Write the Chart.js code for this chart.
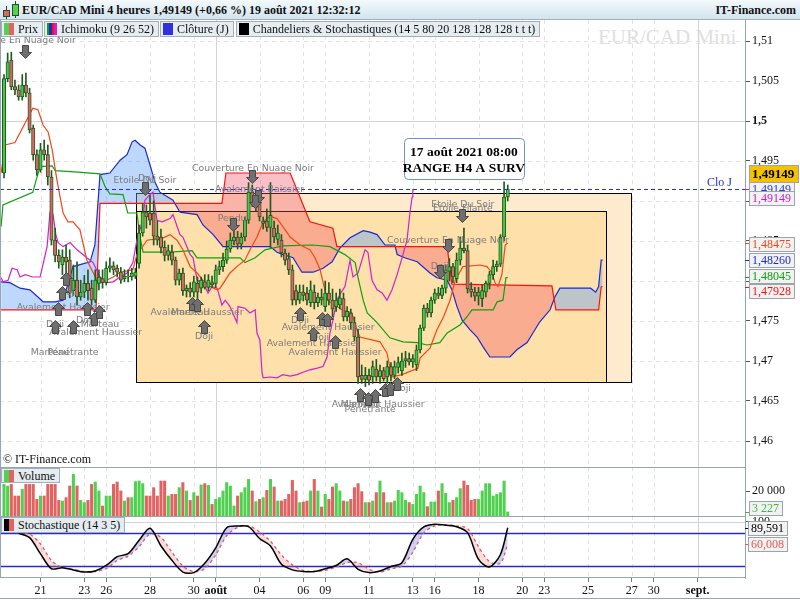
<!DOCTYPE html>
<html lang="fr">
<head>
<meta charset="utf-8">
<title>EUR/CAD Mini 4 heures</title>
<script src="https://cdn.jsdelivr.net/npm/chart.js@4.4.1/dist/chart.umd.min.js"></script>
<style>
  html, body { margin: 0; padding: 0; background: #fff; }
  #page { position: relative; width: 800px; height: 600px; overflow: hidden;
          font-family: "Liberation Serif", "Times New Roman", serif; color: #111; }
  canvas { position: absolute; left: 0; }
  #titre { position: absolute; left: 0; top: 0; width: 800px; height: 20px; box-sizing: border-box;
           background: linear-gradient(#f3f9fc, #d2e4ee); border-bottom: 1px solid #9fb0bc;
           font-weight: bold; font-size: 12px; z-index: 3; }
  #titre .txt { position: absolute; left: 22px; top: 3px; }
  #titre .site { position: absolute; right: 4px; top: 3px; }
  .meche { position: absolute; width: 1px; background: #2c4a2c; }
  .corps { position: absolute; box-sizing: border-box; border: 1px solid #2c4a2c; }
  .legendes { position: absolute; left: 1px; display: flex; gap: 1px; z-index: 3; }
  .leg { height: 16px; box-sizing: border-box; border: 1px solid #9fb0bc; background: #e6edf1;
         font-size: 12px; line-height: 14px; padding: 0 4px 0 2px; white-space: nowrap;
         display: flex; align-items: center; }
  .sw { display: inline-block; width: 10px; height: 12px; margin-right: 4px; }
  #filigrane { position: absolute; left: 598px; top: 25px; font-size: 21px; color: #e0e0e0; }
  #copy { position: absolute; left: 3px; top: 452px; font-size: 12px; z-index: 3; }
  #basline { position: absolute; left: 0; top: 598px; width: 800px; height: 1px; background: #98a4ae; }
</style>
</head>
<body>
<div id="page">
  <div id="filigrane">EUR/CAD Mini</div>
  <canvas id="prix" width="800" height="447" style="top:20px"></canvas>
  <canvas id="volume" width="800" height="49" style="top:467px"></canvas>
  <canvas id="stoch" width="800" height="84" style="top:516px"></canvas>

  <div id="titre">
    <div class="meche" style="left:6px;top:6px;height:13px"></div>
    <div class="corps" style="left:3px;top:10px;width:7px;height:7px;background:#e36262"></div>
    <div class="meche" style="left:15px;top:1px;height:17px"></div>
    <div class="corps" style="left:12px;top:4px;width:7px;height:12px;background:#52d152"></div>
    <span class="txt">EUR/CAD Mini 4 heures 1,49149 (+0,66 %) 19 août 2021 12:32:12</span>
    <span class="site">IT-Finance.com</span>
  </div>

  <div class="legendes" style="top:21px">
    <div class="leg"><span class="sw" style="background:linear-gradient(90deg,#52d152 50%,#e36262 50%)"></span>Prix</div>
    <div class="leg"><span class="sw" style="background:linear-gradient(90deg,#10a010 0 25%,#1a2ad0 25% 50%,#ff1010 50% 75%,#d020d0 75%)"></span>Ichimoku (9 26 52)</div>
    <div class="leg"><span class="sw" style="background:#3030e0"></span>Clôture (J)</div>
    <div class="leg" style="margin-left:1px"><span class="sw" style="background:#000"></span>Chandeliers &amp; Stochastiques (14 5 80 20 128 128 128 t t t)</div>
  </div>
  <div id="copy">© IT-Finance.com</div>
  <div class="legendes" style="top:468px">
    <div class="leg" style="height:15px"><span class="sw" style="background:linear-gradient(90deg,#52d152 50%,#e36262 50%)"></span>Volume</div>
  </div>
  <div class="legendes" style="top:517px">
    <div class="leg"><span class="sw" style="background:linear-gradient(90deg,#000 50%,#e36262 50%)"></span>Stochastique (14 3 5)</div>
  </div>
  <div id="basline"></div>
</div>

<script>
// ---------- bougies 4 heures (index 0 = 20 juil. 00:00, 6 bougies par jour) ----------
const firstCandle = -4;
const opens = [1.4935,1.5053,1.5076,1.5043,1.5039,1.5030,1.5045,1.5035,1.4991,1.4958,
  1.4939,1.4964,1.4958,1.4930,1.4851,1.4832,1.4820,1.4830,1.4826,1.4788,
  1.4801,1.4780,1.4786,1.4797,1.4791,1.4776,1.4797,1.4803,1.4798,1.4816,
  1.4819,1.4816,1.4811,1.4803,1.4806,1.4805,1.4806,1.4822,1.4860,1.4886,
  1.4885,1.4885,1.4856,1.4855,1.4842,1.4832,1.4836,1.4826,1.4801,1.4810,
  1.4788,1.4791,1.4786,1.4797,1.4791,1.4799,1.4792,1.4798,1.4797,1.4814,
  1.4818,1.4826,1.4840,1.4850,1.4855,1.4846,1.4855,1.4876,1.4911,1.4892,
  1.4901,1.4872,1.4875,1.4867,1.4866,1.4852,1.4851,1.4835,1.4828,1.4814,
  1.4788,1.4776,1.4786,1.4785,1.4773,1.4786,1.4773,1.4780,1.4768,1.4785,
  1.4776,1.4768,1.4770,1.4778,1.4755,1.4760,1.4748,1.4730,1.4682,1.4677,
  1.4682,1.4680,1.4690,1.4680,1.4688,1.4680,1.4693,1.4682,1.4692,1.4688,
  1.4700,1.4703,1.4699,1.4695,1.4714,1.4741,1.4766,1.4760,1.4776,1.4785,
  1.4782,1.4791,1.4812,1.4818,1.4803,1.4826,1.4841,1.4838,1.4790,1.4786,
  1.4781,1.4778,1.4786,1.4797,1.4808,1.4818,1.4821,1.4855,1.4905];
const highs = [1.5058,1.5085,1.5086,1.5051,1.5045,1.5058,1.5060,1.5041,1.4995,1.4964,
  1.4972,1.4976,1.4970,1.4938,1.4866,1.4839,1.4839,1.4845,1.4839,1.4820,
  1.4824,1.4801,1.4807,1.4814,1.4801,1.4814,1.4814,1.4814,1.4824,1.4829,
  1.4824,1.4820,1.4817,1.4814,1.4814,1.4816,1.4816,1.4870,1.4897,1.4895,
  1.4907,1.4900,1.4875,1.4865,1.4850,1.4845,1.4845,1.4830,1.4815,1.4816,
  1.4795,1.4798,1.4806,1.4805,1.4805,1.4808,1.4808,1.4806,1.4820,1.4825,
  1.4835,1.4850,1.4860,1.4862,1.4862,1.4860,1.4880,1.4923,1.4920,1.4913,
  1.4910,1.4880,1.4890,1.4923,1.4875,1.4870,1.4858,1.4840,1.4835,1.4820,
  1.4795,1.4795,1.4795,1.4792,1.4800,1.4795,1.4785,1.4790,1.4800,1.4798,
  1.4790,1.4785,1.4790,1.4785,1.4768,1.4765,1.4755,1.4740,1.4695,1.4692,
  1.4690,1.4700,1.4702,1.4695,1.4692,1.4700,1.4698,1.4700,1.4705,1.4710,
  1.4712,1.4710,1.4708,1.4720,1.4745,1.4770,1.4772,1.4780,1.4790,1.4792,
  1.4795,1.4820,1.4828,1.4822,1.4835,1.4855,1.4866,1.4845,1.4798,1.4792,
  1.4792,1.4795,1.4800,1.4812,1.4826,1.4825,1.4858,1.4924,1.4920];
const lows = [1.4929,1.5049,1.5039,1.5033,1.5026,1.5026,1.5030,1.4985,1.4951,1.4932,
  1.4936,1.4951,1.4920,1.4845,1.4824,1.4816,1.4808,1.4808,1.4779,1.4782,
  1.4770,1.4776,1.4779,1.4776,1.4770,1.4773,1.4789,1.4791,1.4795,1.4811,
  1.4808,1.4805,1.4797,1.4799,1.4799,1.4801,1.4803,1.4816,1.4856,1.4866,
  1.4870,1.4845,1.4845,1.4835,1.4825,1.4826,1.4820,1.4795,1.4795,1.4782,
  1.4780,1.4780,1.4780,1.4763,1.4785,1.4790,1.4788,1.4792,1.4792,1.4808,
  1.4812,1.4822,1.4836,1.4845,1.4840,1.4840,1.4850,1.4872,1.4893,1.4888,
  1.4875,1.4865,1.4862,1.4842,1.4848,1.4845,1.4830,1.4820,1.4808,1.4770,
  1.4770,1.4772,1.4775,1.4770,1.4768,1.4765,1.4768,1.4770,1.4762,1.4770,
  1.4755,1.4762,1.4765,1.4750,1.4750,1.4740,1.4725,1.4672,1.4672,1.4668,
  1.4670,1.4672,1.4675,1.4672,1.4675,1.4672,1.4675,1.4678,1.4685,1.4682,
  1.4692,1.4695,1.4692,1.4688,1.4710,1.4738,1.4755,1.4755,1.4772,1.4778,
  1.4778,1.4785,1.4800,1.4798,1.4798,1.4820,1.4835,1.4785,1.4780,1.4775,
  1.4770,1.4768,1.4780,1.4790,1.4802,1.4812,1.4818,1.4850,1.4900];
const closes = [1.5053,1.5074,1.5043,1.5039,1.5030,1.5045,1.5035,1.4989,1.4958,1.4939,
  1.4964,1.4958,1.4930,1.4851,1.4832,1.4824,1.4830,1.4824,1.4785,1.4801,
  1.4780,1.4786,1.4797,1.4788,1.4776,1.4801,1.4805,1.4798,1.4816,1.4819,
  1.4814,1.4811,1.4801,1.4806,1.4805,1.4810,1.4811,1.4860,1.4886,1.4880,
  1.4876,1.4856,1.4851,1.4842,1.4832,1.4838,1.4826,1.4801,1.4810,1.4788,
  1.4791,1.4786,1.4799,1.4786,1.4801,1.4792,1.4801,1.4795,1.4814,1.4818,
  1.4826,1.4840,1.4851,1.4855,1.4846,1.4855,1.4876,1.4911,1.4898,1.4905,
  1.4880,1.4875,1.4867,1.4882,1.4855,1.4860,1.4835,1.4826,1.4814,1.4776,
  1.4776,1.4786,1.4782,1.4776,1.4789,1.4773,1.4780,1.4776,1.4785,1.4776,
  1.4765,1.4776,1.4779,1.4755,1.4762,1.4748,1.4730,1.4680,1.4677,1.4682,
  1.4676,1.4693,1.4680,1.4688,1.4678,1.4693,1.4682,1.4693,1.4698,1.4700,
  1.4703,1.4699,1.4703,1.4714,1.4741,1.4766,1.4760,1.4776,1.4785,1.4782,
  1.4791,1.4814,1.4818,1.4805,1.4826,1.4841,1.4838,1.4790,1.4786,1.4781,
  1.4786,1.4788,1.4797,1.4808,1.4818,1.4821,1.4855,1.4905,1.49149];
const volumes = [25300,24000,25300,16000,16000,21300,25300,25300,25300,13300,
  16000,16000,25300,25300,25300,12500,12000,14700,24000,33300,
  24000,12500,10700,12500,25300,27200,20000,8000,16000,16000,
  25300,27200,20000,12000,14700,14700,27500,28000,25900,16000,
  16000,22700,16000,28000,28000,16000,17300,17300,22700,26700,
  20000,12500,18700,16000,24800,25900,24500,9300,13300,14700,
  20000,26700,24000,8000,16000,18700,22700,29300,20000,11500,
  13300,14700,20500,29300,23200,12000,12000,13300,17300,28500,
  20000,10700,11200,12000,20000,29300,20000,7200,17300,13300,
  23200,25900,20000,12000,11500,13300,22700,25900,19500,10700,
  10700,12000,18700,28000,18700,10700,10700,12000,20500,
  18700,12500,10700,9300,17300,24000,18700,7500,11200,11200,
  20000,25900,18100,10700,12500,14700,21900,28000,24500,12500,
  13300,13300,20000,25900,25900,16000,17300,18700,28000,3227];
const candleIdx = opens.map((_, i) => firstCandle + i);

// ---------- Ichimoku (sommets des courbes) ----------
const tenkanIdx = [-4.8,-3.7,-1.0,3.9,5.3,6.7,8.1,9.2,10.5,12.2,13.5,14.9,16.8,18.7,21.5,22.8,25.9,27.8,31.3,32.4,35.2,39.6,41.5,43.4,45.0,47.0,48.9,50.5,52.4,54.4,55.2,57.9,59.8,62.0,63.4,65.3,67.0,68.9,70.8,72.4,74.4,77.1,79.8,81.2,82.6,83.9,84.5,88.6,91.3,92.7,93.5,99.0,100.9,102.3,105.0,109.4,110.0,112.7,114.6,116.3,118.2,119.6,121.7,126.4,128.3,129.7,130.5,131.3,132.4,133.3,134];
const tenkanVal = [1.4935,1.4970,1.4973,1.5016,1.5014,1.4995,1.4986,1.4964,1.4926,1.4885,1.4874,1.4874,1.4864,1.4826,1.4801,1.4798,1.4805,1.4811,1.4814,1.4833,1.4851,1.4854,1.4858,1.4851,1.4839,1.4818,1.4810,1.4801,1.4793,1.4789,1.4791,1.4810,1.4818,1.4826,1.4839,1.4855,1.4874,1.4881,1.4878,1.4868,1.4855,1.4845,1.4839,1.4829,1.4814,1.4789,1.4776,1.4764,1.4760,1.4739,1.4730,1.4724,1.4710,1.4680,1.4683,1.4691,1.4704,1.4716,1.4739,1.4754,1.4776,1.4801,1.4818,1.4820,1.4818,1.4810,1.4798,1.4793,1.4808,1.4845,1.48475];
const kijunIdx = [-4.8,-4.3,3.9,4.8,5.9,9.2,10.0,16.3,22.3,23.7,25.0,28.6,29.9,32.4,33.3,34.1,41.5,47.5,48.9,60.7,62.0,64.8,67.5,72.4,80.4,85.3,89.4,92.2,93.0,94.4,95.5,98.2,101.7,105.3,109.2,111.9,115.4,117.4,120.9,122.8,124.2,130.0,131.1,132.7,133.5,134];
const kijunVal = [1.4868,1.4895,1.4911,1.4926,1.4943,1.4944,1.4938,1.4936,1.4934,1.4918,1.4909,1.4908,1.4885,1.4885,1.4854,1.4836,1.4836,1.4838,1.4829,1.4829,1.4823,1.4829,1.4839,1.4844,1.4845,1.4843,1.4833,1.4823,1.4804,1.4776,1.4760,1.4748,1.4729,1.4724,1.4723,1.4720,1.4723,1.4735,1.4745,1.4755,1.4764,1.4764,1.4774,1.4776,1.4804,1.48045];
const spanAIdx = [-4.8,-2.4,0.4,3.1,5.3,6.7,10.0,12.2,14.9,19.6,20.9,22.3,25.0,27.8,29.7,31.1,31.9,33.3,34.6,36.0,37.4,38.7,42.3,44.2,48.9,50.5,53.3,56.0,68.9,70.8,72.4,75.2,77.6,80.7,83.4,85.9,88.0,90.8,94.4,96.3,98.2,100.4,103.1,103.7,105.8,109.2,112.7,114.6,117.4,118.7,120.1,121.5,123.7,125.6,127.2,129.1,134.6,136.5,139.3,140.9,142.8,145.6,146.9,148.3,156.7,158.1,158.9,159.6,160];
const spanAVal = [1.4799,1.4798,1.4791,1.4789,1.4780,1.4774,1.4774,1.4776,1.4818,1.4824,1.4845,1.4933,1.4935,1.4951,1.4958,1.4974,1.4976,1.4970,1.4966,1.4945,1.4923,1.4911,1.4901,1.4886,1.4883,1.4870,1.4858,1.4843,1.4843,1.4836,1.4833,1.4829,1.4811,1.4811,1.4816,1.4824,1.4841,1.4854,1.4863,1.4861,1.4858,1.4845,1.4845,1.4833,1.4829,1.4824,1.4810,1.4804,1.4801,1.4789,1.4768,1.4751,1.4739,1.4730,1.4718,1.4705,1.4705,1.4714,1.4723,1.4735,1.4749,1.4764,1.4780,1.4791,1.4791,1.4786,1.4793,1.4826,1.48260];
const spanBIdx = [-4.8,21.2,22.3,55.7,56.8,74.4,79.8,86.1,87.2,117.4,118.7,146.1,147.2,158.9,159.6,160];
const spanBVal = [1.4764,1.4764,1.4897,1.4897,1.4935,1.4935,1.4874,1.4866,1.4843,1.4843,1.4796,1.4794,1.4764,1.4764,1.47928,1.47928];
const chikouIdx = [-4.8,-4.3,-2.9,-1.8,-0.4,0.4,1.8,3.9,5.9,7.8,8.6,9.4,10.2,10.8,12.2,14.1,16.0,18.7,20.4,22.3,24.2,25.9,27.8,29.7,31.3,32.4,34.1,34.6,36.0,36.8,37.9,39.3,41.5,42.3,44.2,45.0,47.0,47.8,48.9,50.5,51.9,53.0,54.4,55.7,56.6,57.9,59.8,60.1,62.0,63.4,64.8,65.3,66.1,66.7,67.0,68.9,70.8,72.4,74.4,76.3,77.9,79.8,81.8,83.4,84.5,85.3,86.1,87.2,88.0,89.4,90.8,91.6,93.0,94.9,95.7,96.8,98.2,99.6,100.9,102.3,103.7,105.3,106.4,107.2,107.8,108];
const chikouVal = [1.4804,1.4799,1.4801,1.4816,1.4814,1.4805,1.4808,1.4805,1.4805,1.4843,1.4886,1.4884,1.4858,1.4848,1.4843,1.4848,1.4839,1.4829,1.4823,1.4805,1.4798,1.4799,1.4805,1.4810,1.4823,1.4851,1.4878,1.4901,1.4908,1.4911,1.4876,1.4874,1.4878,1.4883,1.4858,1.4855,1.4833,1.4829,1.4801,1.4798,1.4785,1.4793,1.4791,1.4770,1.4776,1.4768,1.4748,1.4768,1.4766,1.4760,1.4764,1.4735,1.4726,1.4685,1.4679,1.4680,1.4679,1.4683,1.4681,1.4683,1.4686,1.4689,1.4691,1.4693,1.4705,1.4735,1.4751,1.4776,1.4783,1.4793,1.4826,1.4805,1.4810,1.4839,1.4836,1.4801,1.4789,1.4785,1.4776,1.4789,1.4808,1.4833,1.4851,1.4885,1.4905,1.49149];

// ---------- stochastique (14 3 5) ----------
const stochIdx = [0,3,6,9,12,15,18,21,24,27,30,33,36,39,42,45,48,51,54,57,60,63,66,69,72,75,78,81,84,87,90,93,96,99,102,105,108,111,114,117,120,123,126,129,132,134];
const stochK = [79.4,71.5,42,15,17,12.7,9,11,21,37,42.4,66.7,88.5,56.4,30.3,9,8,25,53,89.7,92.7,91.5,70,56.4,23,13,10,10,15,21,33,14,8,11,19,26,68.5,91,96,94,91.5,80.6,32,18.2,41,89.591];
const stochD = [80,78,60,30,17,14,10,10,15,30,38,55,78,72,45,20,10,15,40,75,90,93,82,65,40,22,12,10,12,18,26,26,14,9,15,20,45,80,93,95,93,88,55,28,25,60.008];

// ---------- axes ----------
const xTickIdx = [6,18,24,36,48,54,66,78,84,96,108,114,126,138,144,156,168,174,186];
const xTickLabels = ['21','23','26','28','30','août','04','06','09','11','13','16','18','20','23','25','27','30','sept.'];
const moisLabels = ['août','sept.'];
const yTickVals = [1.46,1.465,1.47,1.475,1.48,1.485,1.49,1.495,1.5,1.505,1.51];

// ---------- zones tracées et annotations ----------
const zoneStart = [32.2, 32.2];
const zoneEnd = [167.8, 160.9];
const zoneTop = [1.4910, 1.48875];
const zoneBottom = [1.46738, 1.46738];
const noteIdx = 122, notePrice = 1.4953;
const noteLines = ['17 août 2021 08:00', 'RANGE H4 A SURV'];

const arrowIdx = [1.8,34.6,64.0,65.7,64.8,58.7,121.5,117.6,115.4,
  13.0,11.9,10.8,10.0,14.9,18.7,20.7,22.0,47.5,48.9,50.8,77.1,83.1,84.5,80.7,86.7,93.5,95.7,97.6,100.4,101.7,103.7];
const arrowPrice = [1.5079,1.4908,1.4922,1.4897,1.4891,1.4862,1.4874,1.4836,1.4804,
  1.4811,1.4794,1.4774,1.4751,1.4751,1.4774,1.4761,1.4770,1.4780,1.4779,1.4751,1.4768,1.4761,1.4760,1.4743,1.4733,1.4666,1.4661,1.4665,1.4673,1.4674,1.4680];
const arrowDir = ['b','b','b','b','b','b','b','b','b',
  'h','h','h','h','h','h','h','h','h','h','h','h','h','h','h','h','h','h','h','h','h','h'];

const patText = ['Couverture En Nuage Noir','Etoile Du Soir','Doji','Couverture En Nuage Noir','Avalement Baissier','Pendu',
  'Doji','Avalement Haussier','Doji','Doji','Marteau','Avalement Haussier','Marteau','Pénétrante',
  'Avalement Haussier','Marteau','Doji',
  'Doji','Avalement Haussier','Doji','Avalement Haussier','Avalement Haussier',
  'Doji','Avalement Haussier','Marteau','Pénétrante',
  'Etoile Du Soir','Etoile Filante','Couverture En Nuage Noir','Doji'];
const patIdx = [-1.0,34.6,35.2,64.2,66.0,58.5,
  13.5,12.2,10.0,18.2,22.3,21.1,8.6,14.9,
  48.9,47.0,50.8,
  77.1,84.8,82.6,80.7,86.7,
  105.0,98.5,93.5,96.3,
  121.7,121.7,117.6,115.4];
const patPrice = [1.5101,1.4926,1.4928,1.4941,1.4914,1.4878,
  1.4786,1.4767,1.4746,1.4750,1.4745,1.4735,1.4710,1.4710,
  1.4760,1.4760,1.4730,
  1.4750,1.4742,1.4729,1.4722,1.4711,
  1.4665,1.4645,1.4645,1.4639,
  1.4895,1.4890,1.4851,1.4818];

// ---------- réglages communs ----------
const SERIF = '"Liberation Serif", "Times New Roman", serif';
Chart.defaults.font.family = SERIF;
Chart.defaults.font.size = 12;
Chart.defaults.color = '#111';
Chart.defaults.animation = false;

const X_MIN = -5.1, X_MAX = 199.0;
const last = a => a[a.length - 1];
const fmt5 = v => v.toFixed(5).replace('.', ',');
const fmtMilliers = v => String(v).replace(/\B(?=(\d{3})+(?!\d))/g, ' ');

function xScale(show) {
  return {
    type: 'linear', min: X_MIN, max: X_MAX, offset: false, display: show,
    grid: { drawOnChartArea: false, drawTicks: true, tickLength: 4, color: '#777', offset: false },
    border: { display: false },
    afterBuildTicks: s => { s.ticks = xTickIdx.map(v => ({ value: v })); },
    afterFit: s => { s.height = show ? 22 : 0; s.paddingLeft = 0; s.paddingRight = 0; },
    ticks: {
      autoSkip: false, maxRotation: 0, padding: 2,
      callback: (v, i) => xTickLabels[i],
      font: c => ({ size: 12, weight: moisLabels.includes(xTickLabels[c.index]) ? 'bold' : 'normal' })
    }
  };
}
function yScale(min, max, ticks, fmt, boldVal) {
  return {
    type: 'linear', position: 'right', min, max,
    afterBuildTicks: s => { s.ticks = ticks.map(v => ({ value: v })); },
    afterFit: s => { s.width = 55; s.paddingTop = 0; s.paddingBottom = 0; },
    grid: { drawOnChartArea: false, tickLength: 5, color: '#555' },
    border: { color: '#98a4ae' },
    ticks: {
      padding: 2, autoSkip: false, callback: v => fmt(v),
      font: c => ({ size: 12, weight: (c.tick && c.tick.value === boldVal) ? 'bold' : 'normal' })
    }
  };
}

// quadrillage pointillé + cadre de chaque panneau
const gridPlugin = {
  id: 'grille',
  beforeDatasetsDraw(chart, args, opts) {
    const { ctx, chartArea: a, scales } = chart;
    ctx.save();
    ctx.lineWidth = 1;
    xTickIdx.forEach((v, i) => {
      const px = Math.round(scales.x.getPixelForValue(v)) + 0.5;
      const mois = moisLabels.includes(xTickLabels[i]);
      ctx.strokeStyle = mois ? '#d0d4d8' : '#e2e2e2';
      ctx.setLineDash(mois ? [] : [4, 4]);
      ctx.beginPath(); ctx.moveTo(px, a.top); ctx.lineTo(px, a.bottom); ctx.stroke();
    });
    (opts.lignes || []).forEach(v => {
      const py = Math.round(scales.y.getPixelForValue(v)) + 0.5;
      const plein = (opts.pleines || []).includes(v);
      ctx.strokeStyle = plein ? '#d0d4d8' : '#e2e2e2';
      ctx.setLineDash(plein ? [] : [4, 4]);
      ctx.beginPath(); ctx.moveTo(a.left, py); ctx.lineTo(a.right, py); ctx.stroke();
    });
    (opts.bleues || []).forEach(v => {
      const py = Math.round(scales.y.getPixelForValue(v)) + 0.5;
      ctx.strokeStyle = '#2a2ad0'; ctx.lineWidth = 1.3; ctx.setLineDash([]);
      ctx.beginPath(); ctx.moveTo(a.left, py); ctx.lineTo(a.right, py); ctx.stroke();
    });
    ctx.restore();
  },
  afterDraw(chart, args, opts) {
    const { ctx, chartArea: a } = chart;
    ctx.save();
    ctx.strokeStyle = '#98a4ae'; ctx.lineWidth = 1;
    ctx.beginPath();
    ctx.moveTo(0.5, a.top); ctx.lineTo(0.5, a.bottom);
    if (opts.haut) { ctx.moveTo(0, a.top + 0.5); ctx.lineTo(a.right, a.top + 0.5); }
    if (opts.bas) { ctx.moveTo(0, a.bottom - 0.5); ctx.lineTo(a.right, a.bottom - 0.5); }
    ctx.stroke();
    ctx.restore();
  }
};

function valueBox(ctx, x, yc, text, color, o) {
  o = o || {};
  ctx.font = (o.bold ? 'bold 13px ' : '12px ') + SERIF;
  const w = Math.ceil(ctx.measureText(text).width) + 6;
  const h = o.h || 14;
  const top = Math.round(yc - h / 2);
  ctx.fillStyle = o.bg || '#f2f2f2';
  ctx.fillRect(x, top, w, h);
  ctx.strokeStyle = '#9aa4ac'; ctx.lineWidth = 1;
  ctx.strokeRect(x + 0.5, top + 0.5, w, h);
  ctx.fillStyle = color; ctx.textAlign = 'left'; ctx.textBaseline = 'middle';
  ctx.fillText(text, x + 3, top + h / 2 + 1);
}
function tickMark(ctx, chart, py, color) {
  const r = chart.chartArea.right;
  ctx.strokeStyle = color; ctx.lineWidth = 1;
  ctx.beginPath(); ctx.moveTo(r, Math.round(py) + 0.5); ctx.lineTo(r + 4, Math.round(py) + 0.5); ctx.stroke();
}

// rectangles tracés sous le nuage
const zonesPlugin = {
  id: 'zones',
  beforeDatasetsDraw(chart) {
    const { ctx, chartArea: a, scales: { x, y } } = chart;
    const fills = ['#feebce', '#fde0aa'];
    ctx.save();
    ctx.beginPath(); ctx.rect(a.left, a.top, a.width, a.height); ctx.clip();
    zoneStart.forEach((s, i) => {
      const x0 = Math.round(x.getPixelForValue(s)) + 0.5, x1 = Math.round(x.getPixelForValue(zoneEnd[i])) + 0.5;
      const y0 = Math.round(y.getPixelForValue(zoneTop[i])) + 0.5, y1 = Math.round(y.getPixelForValue(zoneBottom[i])) + 0.5;
      ctx.fillStyle = fills[i];
      ctx.fillRect(x0, y0, x1 - x0, y1 - y0);
      ctx.strokeStyle = '#000'; ctx.lineWidth = 1;
      ctx.strokeRect(x0, y0, x1 - x0, y1 - y0);
    });
    ctx.restore();
  }
};

function arrow(ctx, px, tip, dir) {
  const s = dir === 'h' ? 1 : -1;
  ctx.beginPath();
  ctx.moveTo(px, tip);
  ctx.lineTo(px + 6, tip + s * 6);
  ctx.lineTo(px + 3, tip + s * 6);
  ctx.lineTo(px + 3, tip + s * 13);
  ctx.lineTo(px - 3, tip + s * 13);
  ctx.lineTo(px - 3, tip + s * 6);
  ctx.lineTo(px - 6, tip + s * 6);
  ctx.closePath();
  ctx.fillStyle = '#6f6f6f'; ctx.fill();
  ctx.strokeStyle = '#474747'; ctx.lineWidth = 1; ctx.stroke();
}

const decorPlugin = {
  id: 'decor',
  afterDatasetsDraw(chart) {
    const { ctx, chartArea: a, scales: { x, y } } = chart;
    ctx.save();
    ctx.beginPath(); ctx.rect(a.left, a.top, a.width, a.height); ctx.clip();

    // clôture du jour
    const cy = Math.round(y.getPixelForValue(last(closes))) + 0.5;
    ctx.strokeStyle = '#2030e0'; ctx.lineWidth = 1; ctx.setLineDash([4, 3]);
    ctx.beginPath(); ctx.moveTo(a.left, cy); ctx.lineTo(a.right, cy); ctx.stroke();
    ctx.setLineDash([]);
    ctx.font = '12px ' + SERIF; ctx.fillStyle = '#2030e0';
    ctx.textAlign = 'right'; ctx.textBaseline = 'bottom';
    ctx.fillText('Clo J', a.right - 13, cy - 1);

    // figures de chandeliers
    ctx.font = '9.3px "DejaVu Sans", sans-serif';
    ctx.fillStyle = '#7c7c7c'; ctx.textAlign = 'center'; ctx.textBaseline = 'middle';
    patText.forEach((t, i) => ctx.fillText(t, x.getPixelForValue(patIdx[i]), y.getPixelForValue(patPrice[i])));
    arrowIdx.forEach((v, i) => arrow(ctx, Math.round(x.getPixelForValue(v)) + 0.5,
      Math.round(y.getPixelForValue(arrowPrice[i])) + 0.5, arrowDir[i]));

    // note
    const nx = x.getPixelForValue(noteIdx), ny = y.getPixelForValue(notePrice);
    const w = 120, h = 41, bx = Math.round(nx - w / 2) + 0.5, by = Math.round(ny - h / 2) + 0.5;
    ctx.beginPath(); ctx.roundRect(bx, by, w, h, 4);
    ctx.fillStyle = '#fff'; ctx.fill();
    ctx.strokeStyle = '#6d8fdc'; ctx.stroke();
    ctx.font = 'bold 13.5px ' + SERIF; ctx.fillStyle = '#000'; ctx.textAlign = 'center';
    ctx.fillText(noteLines[0], nx, by + 14);
    ctx.fillText(noteLines[1], nx, by + 30);
    ctx.restore();
  },
  afterDraw(chart) {
    const { ctx, chartArea: a, scales: { y } } = chart;
    const bx = a.right + 4;
    const boxes = [
      { v: last(closes), c: '#2a36d8', dy: 0 },
      { v: last(chikouVal), c: '#c81ec8', dy: 9 },
      { v: last(closes), c: '#000', dy: -16, bg: '#f6c200', bold: true, h: 17 },
      { v: last(tenkanVal), c: '#f04818', dy: 1 },
      { v: last(spanAVal), c: '#1a2ad0', dy: 0 },
      { v: last(kijunVal), c: '#10a010', dy: -1 },
      { v: last(spanBVal), c: '#ff1010', dy: 4 }
    ];
    ctx.save();
    boxes.forEach(b => {
      const py = y.getPixelForValue(b.v);
      if (!b.bold) tickMark(ctx, chart, py, b.c);
      valueBox(ctx, bx, py + b.dy, fmt5(b.v), b.c, b);
    });
    ctx.restore();
  }
};

// ---------- panneau prix ----------
const candleFill = closes.map((c, i) => c >= opens[i] ? '#48c848' : '#e26464');
new Chart(document.getElementById('prix'), {
  type: 'bar',
  data: {
    datasets: [
      { type: 'bar', data: candleIdx.map((v, i) => ({ x: v, y: [opens[i], closes[i]] })),
        backgroundColor: candleFill, borderColor: '#1f5a1f', borderWidth: 1, borderSkipped: false,
        barThickness: 3.4, grouped: false, order: 0 },
      { type: 'bar', data: candleIdx.map((v, i) => ({ x: v, y: [lows[i], highs[i]] })),
        backgroundColor: '#1f5a1f', barThickness: 1, grouped: false, order: 1 },
      { type: 'line', data: tenkanIdx.map((v, i) => ({ x: v, y: tenkanVal[i] })),
        borderColor: '#f04818', borderWidth: 1.2, pointRadius: 0, fill: false, order: 2 },
      { type: 'line', data: kijunIdx.map((v, i) => ({ x: v, y: kijunVal[i] })),
        borderColor: '#10a010', borderWidth: 1.2, pointRadius: 0, fill: false, order: 2 },
      { type: 'line', data: chikouIdx.map((v, i) => ({ x: v, y: chikouVal[i] })),
        borderColor: '#d020d0', borderWidth: 1.2, pointRadius: 0, fill: false, order: 2 },
      { type: 'line', data: spanAIdx.map((v, i) => ({ x: v, y: spanAVal[i] })),
        borderColor: '#1a2ad0', borderWidth: 1.2, pointRadius: 0, order: 6,
        fill: { target: 6, above: 'rgba(100,160,250,0.42)', below: 'rgba(240,80,100,0.36)' } },
      { type: 'line', data: spanBIdx.map((v, i) => ({ x: v, y: spanBVal[i] })),
        borderColor: '#ff1010', borderWidth: 1.2, pointRadius: 0, fill: false, order: 5 }
    ]
  },
  options: {
    responsive: false, animation: false,
    layout: { padding: 0 },
    plugins: { legend: { display: false }, tooltip: { enabled: false },
      grille: { lignes: yTickVals, pleines: [1.5] } },
    scales: {
      x: xScale(false),
      y: yScale(1.45675, 1.512625, yTickVals, v => String(+v.toFixed(3)).replace('.', ','), 1.5)
    }
  },
  plugins: [gridPlugin, zonesPlugin, decorPlugin]
});

// ---------- panneau volume ----------
new Chart(document.getElementById('volume'), {
  type: 'bar',
  data: {
    datasets: [{ data: candleIdx.map((v, i) => ({ x: v, y: volumes[i] })),
      backgroundColor: candleFill.map(c => c === '#48c848' ? '#4fd04f' : '#e26262'),
      barThickness: 2.4, grouped: false }]
  },
  options: {
    responsive: false, animation: false, layout: { padding: 0 },
    plugins: { legend: { display: false }, tooltip: { enabled: false }, grille: { haut: true } },
    scales: { x: xScale(false), y: yScale(0, 39200, [20000], fmtMilliers, -1) }
  },
  plugins: [gridPlugin, {
    id: 'volBox',
    afterDraw(chart) {
      const { ctx, chartArea: a, scales: { y } } = chart;
      ctx.save();
      const py = y.getPixelForValue(last(volumes));
      tickMark(ctx, chart, py, '#3cba3c');
      valueBox(ctx, a.right + 4, py - 4, fmtMilliers(last(volumes)), '#3cba3c');
      ctx.restore();
    }
  }]
});

// ---------- panneau stochastique ----------
new Chart(document.getElementById('stoch'), {
  type: 'line',
  data: {
    datasets: [
      { data: stochIdx.map((v, i) => ({ x: v, y: stochK[i] })), borderColor: '#000', borderWidth: 1.5,
        pointRadius: 0, tension: 0.3,
        fill: { target: 1, above: 'rgba(110,110,215,0.32)', below: 'rgba(232,110,110,0.24)' } },
      { data: stochIdx.map((v, i) => ({ x: v, y: stochD[i] })), borderColor: '#e05a5a', borderWidth: 1.3,
        borderDash: [3, 3], pointRadius: 0, tension: 0.3, fill: false }
    ]
  },
  options: {
    responsive: false, animation: false, layout: { padding: 0 },
    plugins: { legend: { display: false }, tooltip: { enabled: false },
      grille: { lignes: [100], pleines: [100], bleues: [80, 20], haut: true, bas: true } },
    scales: { x: xScale(true), y: yScale(-1.82, 110.9, [100], v => String(v), -1) }
  },
  plugins: [gridPlugin, {
    id: 'stochBox',
    afterDraw(chart) {
      const { ctx, chartArea: a, scales: { y } } = chart;
      ctx.save();
      const k = last(stochK), d = last(stochD);
      tickMark(ctx, chart, y.getPixelForValue(k), '#000');
      valueBox(ctx, a.right + 3, y.getPixelForValue(k), k.toFixed(3).replace('.', ','), '#000');
      tickMark(ctx, chart, y.getPixelForValue(d), '#e05a5a');
      valueBox(ctx, a.right + 3, y.getPixelForValue(d), d.toFixed(3).replace('.', ','), '#e05a5a');
      ctx.restore();
    }
  }]
});
</script>
</body>
</html>
